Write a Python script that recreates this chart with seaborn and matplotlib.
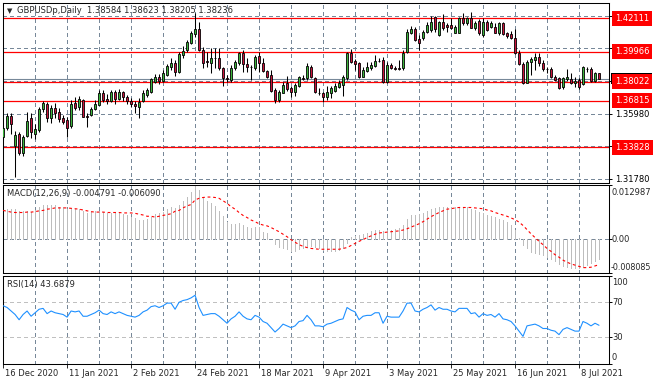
import numpy as np
import pandas as pd
import matplotlib
matplotlib.use("Agg")
import matplotlib.pyplot as plt
from matplotlib.patches import Rectangle
import seaborn as sns

# GBPUSDp daily candles (16 Dec 2020 .. 15 Jul 2021)
opens = [1.3448, 1.3506, 1.3583, 1.3390, 1.3467, 1.3345, 1.3454, 1.3570, 1.3467, 1.3493,
         1.3628, 1.3660, 1.3570, 1.3634, 1.3609, 1.3570, 1.3557, 1.3519, 1.3666, 1.3641,
         1.3686, 1.3583, 1.3589, 1.3628, 1.3654, 1.3731, 1.3692, 1.3679, 1.3737, 1.3692,
         1.3737, 1.3705, 1.3679, 1.3660, 1.3641, 1.3679, 1.3718, 1.3737, 1.3801, 1.3834,
         1.3808, 1.3847, 1.3898, 1.3924, 1.3866, 1.3975, 1.4007, 1.4052, 1.4110, 1.4142,
         1.4007, 1.3937, 1.3924, 1.3956, 1.3956, 1.3892, 1.3827, 1.3814, 1.3892, 1.3924,
         1.3988, 1.3917, 1.3898, 1.3892, 1.3969, 1.3924, 1.3872, 1.3847, 1.3750, 1.3686,
         1.3731, 1.3795, 1.3763, 1.3737, 1.3776, 1.3827, 1.3827, 1.3898, 1.3827, 1.3731,
         1.3731, 1.3705, 1.3731, 1.3744, 1.3769, 1.3782, 1.3827, 1.3988, 1.3937, 1.3924,
         1.3834, 1.3872, 1.3892, 1.3904, 1.3937, 1.3943, 1.3801, 1.3911, 1.3892, 1.3892,
         1.3892, 1.3994, 1.4117, 1.4142, 1.4078, 1.4084, 1.4123, 1.4136, 1.4219, 1.4104,
         1.4187, 1.4168, 1.4168, 1.4117, 1.4117, 1.4213, 1.4181, 1.4213, 1.4149, 1.4194,
         1.4104, 1.4187, 1.4155, 1.4155, 1.4117, 1.4181, 1.4117, 1.4110, 1.4084, 1.3988,
         1.3917, 1.3795, 1.3930, 1.3943, 1.3962, 1.3924, 1.3885, 1.3885, 1.3834, 1.3827,
         1.3769, 1.3821, 1.3821, 1.3795, 1.3814, 1.3789, 1.3885, 1.3885, 1.3808, 1.38584]
highs = [1.3525, 1.3602, 1.3602, 1.3486, 1.3480, 1.3461, 1.3609, 1.3602, 1.3532, 1.3641,
         1.3679, 1.3673, 1.3654, 1.3666, 1.3634, 1.3589, 1.3577, 1.3686, 1.3705, 1.3711,
         1.3692, 1.3602, 1.3641, 1.3686, 1.3750, 1.3750, 1.3724, 1.3750, 1.3750, 1.3756,
         1.3744, 1.3718, 1.3699, 1.3679, 1.3699, 1.3750, 1.3763, 1.3827, 1.3853, 1.3853,
         1.3879, 1.3917, 1.3956, 1.3943, 1.3994, 1.4033, 1.4072, 1.4129, 1.4245, 1.4187,
         1.4027, 1.3994, 1.4020, 1.4020, 1.4020, 1.3898, 1.3847, 1.3911, 1.3943, 1.3994,
         1.4007, 1.3956, 1.3911, 1.3975, 1.3994, 1.3956, 1.3879, 1.3879, 1.3763, 1.3750,
         1.3801, 1.3840, 1.3776, 1.3795, 1.3840, 1.3847, 1.3924, 1.3911, 1.3834, 1.3763,
         1.3737, 1.3776, 1.3776, 1.3795, 1.3814, 1.3847, 1.3994, 1.4014, 1.3949, 1.3930,
         1.3898, 1.3930, 1.3930, 1.3975, 1.3956, 1.3962, 1.3930, 1.3924, 1.3904, 1.3943,
         1.4007, 1.4142, 1.4162, 1.4155, 1.4104, 1.4136, 1.4187, 1.4226, 1.4226, 1.4194,
         1.4239, 1.4181, 1.4213, 1.4168, 1.4219, 1.4245, 1.4219, 1.4250, 1.4194, 1.4207,
         1.4213, 1.4200, 1.4194, 1.4181, 1.4187, 1.4185, 1.4123, 1.4129, 1.4142, 1.4007,
         1.3930, 1.3943, 1.3962, 1.3988, 1.3988, 1.3943, 1.3898, 1.3898, 1.3847, 1.3834,
         1.3834, 1.3885, 1.3859, 1.3834, 1.3827, 1.3904, 1.3898, 1.3898, 1.3866, 1.38623]
lows = [1.3429, 1.3493, 1.3467, 1.3191, 1.3332, 1.3326, 1.3448, 1.3441, 1.3435, 1.3480,
        1.3609, 1.3544, 1.3538, 1.3570, 1.3544, 1.3532, 1.3448, 1.3506, 1.3622, 1.3622,
        1.3577, 1.3512, 1.3583, 1.3622, 1.3654, 1.3673, 1.3660, 1.3673, 1.3660, 1.3686,
        1.3679, 1.3660, 1.3641, 1.3602, 1.3570, 1.3673, 1.3705, 1.3731, 1.3795, 1.3789,
        1.3801, 1.3840, 1.3879, 1.3840, 1.3859, 1.3956, 1.3994, 1.4046, 1.4091, 1.4001,
        1.3892, 1.3898, 1.3859, 1.3892, 1.3879, 1.3776, 1.3801, 1.3801, 1.3879, 1.3911,
        1.3866, 1.3866, 1.3814, 1.3879, 1.3866, 1.3866, 1.3827, 1.3737, 1.3666, 1.3673,
        1.3731, 1.3744, 1.3705, 1.3711, 1.3769, 1.3814, 1.3814, 1.3827, 1.3731, 1.3718,
        1.3673, 1.3686, 1.3699, 1.3737, 1.3763, 1.3711, 1.3814, 1.3924, 1.3879, 1.3827,
        1.3834, 1.3866, 1.3879, 1.3898, 1.3930, 1.3795, 1.3795, 1.3885, 1.3879, 1.3879,
        1.3879, 1.3988, 1.4110, 1.4065, 1.4007, 1.4072, 1.4117, 1.4123, 1.4123, 1.4097,
        1.4136, 1.4123, 1.4142, 1.4117, 1.4117, 1.4168, 1.4168, 1.4149, 1.4136, 1.4104,
        1.4091, 1.4129, 1.4149, 1.4117, 1.4104, 1.4104, 1.4084, 1.4078, 1.3982, 1.3911,
        1.3789, 1.3795, 1.3847, 1.3879, 1.3904, 1.3872, 1.3859, 1.3827, 1.3808, 1.3756,
        1.3756, 1.3808, 1.3789, 1.3769, 1.3756, 1.3782, 1.3866, 1.3801, 1.3801, 1.38205]
closes = [1.3506, 1.3583, 1.3532, 1.3461, 1.3345, 1.3448, 1.3551, 1.3480, 1.3499, 1.3628,
          1.3666, 1.3570, 1.3634, 1.3602, 1.3564, 1.3544, 1.3506, 1.3660, 1.3634, 1.3692,
          1.3577, 1.3577, 1.3628, 1.3660, 1.3731, 1.3686, 1.3679, 1.3737, 1.3692, 1.3737,
          1.3705, 1.3679, 1.3660, 1.3647, 1.3673, 1.3731, 1.3750, 1.3821, 1.3834, 1.3808,
          1.3859, 1.3904, 1.3924, 1.3866, 1.3982, 1.4001, 1.4059, 1.4117, 1.4142, 1.4007,
          1.3924, 1.3930, 1.3956, 1.3953, 1.3892, 1.3827, 1.3821, 1.3892, 1.3930, 1.3988,
          1.3917, 1.3898, 1.3895, 1.3962, 1.3924, 1.3872, 1.3834, 1.3744, 1.3686, 1.3737,
          1.3782, 1.3756, 1.3737, 1.3782, 1.3834, 1.3824, 1.3904, 1.3834, 1.3737, 1.3728,
          1.3705, 1.3737, 1.3763, 1.3776, 1.3795, 1.3834, 1.3988, 1.3930, 1.3917, 1.3834,
          1.3879, 1.3898, 1.3911, 1.3937, 1.3934, 1.3801, 1.3911, 1.3892, 1.3888, 1.3888,
          1.3988, 1.4123, 1.4142, 1.4072, 1.4052, 1.4123, 1.4168, 1.4187, 1.4142, 1.4187,
          1.4149, 1.4155, 1.4149, 1.4155, 1.4213, 1.4181, 1.4213, 1.4149, 1.4181, 1.4117,
          1.4187, 1.4136, 1.4181, 1.4117, 1.4181, 1.4110, 1.4097, 1.4084, 1.3988, 1.3917,
          1.3795, 1.3930, 1.3949, 1.3962, 1.3924, 1.3885, 1.3882, 1.3834, 1.3814, 1.3763,
          1.3827, 1.3834, 1.3795, 1.3808, 1.3769, 1.3898, 1.3882, 1.3808, 1.3859, 1.38236]

# MACD(12,26,9): main (histogram) and signal
macd_main = [0.0059, 0.0072, 0.0073, 0.0073, 0.0068, 0.0067, 0.0068, 0.0066, 0.0070, 0.0078,
             0.0082, 0.0081, 0.0082, 0.0081, 0.0078, 0.0076, 0.0073, 0.0075, 0.0073, 0.0072,
             0.0068, 0.0064, 0.0065, 0.0067, 0.0068, 0.0065, 0.0063, 0.0064, 0.0063, 0.0062,
             0.0060, 0.0057, 0.0054, 0.0051, 0.0047, 0.0046, 0.0049, 0.0053, 0.0061, 0.0064,
             0.0065, 0.0072, 0.0077, 0.0075, 0.0083, 0.0091, 0.0102, 0.0112, 0.012987, 0.0117,
             0.0102, 0.0092, 0.0086, 0.0080, 0.0067, 0.0055, 0.0041, 0.0037, 0.0037, 0.0038,
             0.0035, 0.0030, 0.0026, 0.0029, 0.0029, 0.0018, 0.0015, 0.0000, -0.0012, -0.0018,
             -0.0022, -0.0024, -0.0029, -0.0029, -0.0023, -0.0022, -0.0018, -0.0016, -0.0018, -0.0022,
             -0.0026, -0.0028, -0.0029, -0.0028, -0.0026, -0.0022, -0.0010, 0.0005, 0.0008, 0.0011,
             0.0012, 0.0016, 0.0019, 0.0023, 0.0023, 0.0019, 0.0023, 0.0023, 0.0024, 0.0027,
             0.0035, 0.0049, 0.0057, 0.0059, 0.0061, 0.0064, 0.0068, 0.0072, 0.0074, 0.0077,
             0.0078, 0.0078, 0.0078, 0.0077, 0.0078, 0.0078, 0.0076, 0.0073, 0.0070, 0.0065,
             0.0064, 0.0059, 0.0055, 0.0054, 0.0049, 0.0046, 0.0041, 0.0035, 0.0023, 0.0002,
             -0.0014, -0.0022, -0.0030, -0.0033, -0.0036, -0.0038, -0.0042, -0.0047, -0.0053, -0.0059,
             -0.0064, -0.0067, -0.0069, -0.0070, -0.0070, -0.0066, -0.0061, -0.0057, -0.0052, -0.004791]
macd_signal = [0.0069, 0.0067, 0.0065, 0.0064, 0.0064, 0.0064, 0.0065, 0.0065, 0.0066, 0.0068,
               0.0069, 0.0072, 0.0073, 0.0075, 0.0075, 0.0075, 0.0075, 0.0074, 0.0073, 0.0072,
               0.0070, 0.0068, 0.0066, 0.0065, 0.0065, 0.0065, 0.0064, 0.0064, 0.0064, 0.0064,
               0.0063, 0.0063, 0.0063, 0.0062, 0.0060, 0.0058, 0.0055, 0.0055, 0.0053, 0.0055,
               0.0057, 0.0059, 0.0061, 0.0067, 0.0069, 0.0075, 0.0080, 0.0083, 0.0094, 0.0098,
               0.0100, 0.0101, 0.0101, 0.0100, 0.0098, 0.0092, 0.0086, 0.0078, 0.0072, 0.0064,
               0.0057, 0.0052, 0.0046, 0.0042, 0.0037, 0.0034, 0.0032, 0.0028, 0.0023, 0.0018,
               0.0012, 0.0006, -0.0001, -0.0007, -0.0013, -0.0017, -0.0020, -0.0022, -0.0023, -0.0024,
               -0.0024, -0.0024, -0.0024, -0.0024, -0.0024, -0.0022, -0.0020, -0.0015, -0.0010, -0.0005,
               -0.0001, 0.0004, 0.0008, 0.0012, 0.0015, 0.0016, 0.0017, 0.0018, 0.0019, 0.0020,
               0.0022, 0.0025, 0.0029, 0.0033, 0.0037, 0.0042, 0.0048, 0.0054, 0.0059, 0.0064,
               0.0068, 0.0072, 0.0073, 0.0075, 0.0076, 0.0076, 0.0076, 0.0076, 0.0075, 0.0074,
               0.0073, 0.0070, 0.0068, 0.0064, 0.0061, 0.0058, 0.0055, 0.0051, 0.0047, 0.0041,
               0.0033, 0.0023, 0.0013, 0.0004, -0.0005, -0.0013, -0.0022, -0.0029, -0.0037, -0.0043,
               -0.0050, -0.0055, -0.0059, -0.0062, -0.0065, -0.0068, -0.0068, -0.0067, -0.0064, -0.006090]

# RSI(14)
rsi = [66, 64, 60, 56, 50, 56, 60, 54, 58, 62,
       63, 57, 60, 58, 57, 56, 53, 60, 59, 60,
       54, 54, 56, 58, 61, 57, 56, 59, 57, 59,
       57, 55, 54, 53, 55, 59, 61, 65, 66, 64,
       66, 69, 69, 62, 70, 72, 73, 75, 78, 64,
       55, 56, 57, 57, 54, 50, 46, 51, 54, 59,
       54, 51, 50, 55, 53, 48, 46, 41, 36, 40,
       45, 43, 41, 43, 48, 49, 55, 50, 43, 43,
       42, 45, 46, 48, 50, 51, 64, 61, 59, 50,
       54, 55, 55, 58, 58, 46, 54, 53, 53, 53,
       60, 69, 69, 60, 59, 62, 64, 67, 61, 64,
       62, 62, 60, 59, 63, 63, 63, 57, 58, 53,
       57, 55, 56, 53, 57, 51, 50, 48, 43, 37,
       31, 43, 44, 45, 43, 40, 40, 38, 37, 33,
       39, 41, 39, 37, 37, 48, 46, 43, 46, 43.6879]

date_labels = ["16 Dec 2020", "11 Jan 2021", "2 Feb 2021", "24 Feb 2021", "18 Mar 2021",
               "9 Apr 2021", "3 May 2021", "25 May 2021", "16 Jun 2021", "8 Jul 2021"]
date_bars = [0, 16, 32, 48, 64, 80, 96, 112, 128, 144]   # bar index of each date label

levels = [1.42111, 1.39966, 1.38022, 1.36815, 1.33828]     # drawn support / resistance
price_grid = [1.31780, 1.33880, 1.35980, 1.38080, 1.40180, 1.42280]
price_labels = [1.31780, 1.35980, 1.40180, 1.42280]         # the ones not hidden by tags
macd_marks = [0.012987, 0.0, -0.008085]
rsi_levels = [70, 30]

# Style
sns.set_style("white")
plt.rcParams['font.family'] = ['DejaVu Sans']
FS = 6
GRID = '#778899'
BULL, BEAR = '#3cb43c', '#c8143c'

df = pd.DataFrame({'bar': np.arange(len(closes)), 'open': opens, 'high': highs,
                   'low': lows, 'close': closes, 'main': macd_main,
                   'signal': macd_signal, 'rsi': rsi})

W, H = 654, 385
fig = plt.figure(figsize=(W / 100, H / 100), dpi=100)


def panel(top, bottom, left=2.5, right=609):
    ax = fig.add_axes([left / W, 1 - bottom / H, (right - left) / W, (bottom - top) / H])
    for s in ax.spines.values():
        s.set_color('black')
        s.set_linewidth(0.75)
    ax.set_xlim(-0.15, 151.5)
    ax.set_xticks([])
    ax.yaxis.tick_right()
    ax.tick_params(axis='y', length=2, width=0.7, pad=2.5, labelsize=FS, colors='black')
    for xb in range(0, 150, 8):
        ax.axvline(xb, color=GRID, lw=0.72, ls=(0, (3, 3)), zorder=0, antialiased=False)
    return ax


def side_label(ax, y, text, dx=3, dy=0, fs=FS, **kw):
    ax.annotate(text, xy=(1, y), xycoords=('axes fraction', 'data'), xytext=(dx, dy),
                textcoords='offset pixels', va='center', ha='left', fontsize=fs,
                annotation_clip=False, **kw)


# ---- price panel
ax_p = panel(2.5, 182.5)
ax_p.set_ylim(1.31553, 1.43127)
for g in price_grid:
    ax_p.axhline(g, color=GRID, lw=0.72, ls=(0, (3, 3)), zorder=0, antialiased=False)
for lv in levels:
    ax_p.axhline(lv, color='red', lw=0.9, zorder=1)
ax_p.axhline(df['close'].iloc[-1], color=GRID, lw=0.8, zorder=1)

up = df['close'] >= df['open']
body_low = np.minimum(df['open'], df['close'])
body_h = np.maximum((df['close'] - df['open']).abs(), 0.00004)
ax_p.vlines(df['bar'], df['low'], df['high'], color='black', lw=0.75, zorder=3)
ax_p.bar(df['bar'], body_h, bottom=body_low, width=0.62,
         color=np.where(up, BULL, BEAR), edgecolor='black', linewidth=0.6, zorder=4)

ax_p.set_yticks(price_grid)
ax_p.set_yticklabels([f"{g:.5f}" if g in price_labels else "" for g in price_grid])

# bid tag, almost fully hidden under the 1.38022 tag
fig.canvas.draw()
_, y_bid = ax_p.transData.transform((0, closes[-1]))
fig.patches.append(Rectangle((611, y_bid - 5.5), 41, 11, transform=None,
                             fc='black', ec='none', zorder=-1))
for lv in levels:
    side_label(ax_p, lv, f"{lv:.5f}", dx=6, color='white',
               bbox=dict(boxstyle='square,pad=0.35', fc='#ff0000', ec='none'))

fig.text(6.5 / W, 1 - 10.7 / H, "\u25BC", fontsize=5, va='center', ha='left')
fig.text(17 / W, 1 - 10.7 / H,
         f"GBPUSDp,Daily  {opens[-1]:.5f} {highs[-1]:.5f} {lows[-1]:.5f} {closes[-1]:.5f}",
         fontsize=FS, va='center', ha='left')

# ---- MACD panel
ax_m = panel(185, 273)
ax_m.set_ylim(macd_marks[2], macd_marks[0])
ax_m.axhline(0, color=GRID, lw=0.72, ls=(0, (3, 3)), zorder=0, antialiased=False)
ax_m.vlines(df['bar'], 0, df['main'], color='#bdbdbd', lw=0.5, zorder=2, antialiased=False)
sns.lineplot(data=df, x='bar', y='signal', ax=ax_m, color='red', lw=0.8,
             linestyle=(0, (2.5, 2.5)), zorder=3)
ax_m.set_xlabel('')
ax_m.set_ylabel('')
ax_m.set_xlim(-0.15, 151.5)
ax_m.set_yticks(macd_marks)
ax_m.set_yticklabels([])
side_label(ax_m, macd_marks[0], f"{macd_marks[0]:.6f}", dy=-7.7)
side_label(ax_m, 0, "0.00")
side_label(ax_m, macd_marks[2], f"{macd_marks[2]:.6f}", dx=2, dy=5.7, fs=5.8)
fig.text(7 / W, 1 - 193.3 / H,
         f"MACD(12,26,9) {macd_main[-1]:.6f} {macd_signal[-1]:.6f}",
         fontsize=FS, va='center', ha='left')

# ---- RSI panel
ax_r = panel(276, 363.5)
ax_r.set_ylim(0, 100)
for lv in rsi_levels:
    ax_r.axhline(lv, color='#c0c0c0', lw=0.72, ls=(0, (3, 3)), zorder=0, antialiased=False)
sns.lineplot(data=df, x='bar', y='rsi', ax=ax_r, color='#1e90ff', lw=0.8, zorder=3)
ax_r.set_xlabel('')
ax_r.set_ylabel('')
ax_r.set_xlim(-0.15, 151.5)
ax_r.set_yticks([100, 70, 30, 0])
ax_r.set_yticklabels([])
side_label(ax_r, 100, "100", dy=-6.3)
side_label(ax_r, 70, "70")
side_label(ax_r, 30, "30")
side_label(ax_r, 0, "0", dy=6.2)
fig.text(7 / W, 1 - 284.3 / H, f"RSI(14) {rsi[-1]:.4f}", fontsize=FS,
         va='center', ha='left')

ax_r.set_xticks(date_bars)
ax_r.set_xticklabels([])
ax_r.tick_params(axis='x', bottom=True, length=3, width=0.7, direction='out')
for b, lbl in zip(date_bars, date_labels):
    ax_r.annotate(lbl, xy=(b, 0), xycoords=('data', 'axes fraction'), xytext=(2, -10),
                  textcoords='offset pixels', ha='left', va='center', fontsize=FS,
                  annotation_clip=False)

fig.savefig("out.png", dpi=100, facecolor='white')
